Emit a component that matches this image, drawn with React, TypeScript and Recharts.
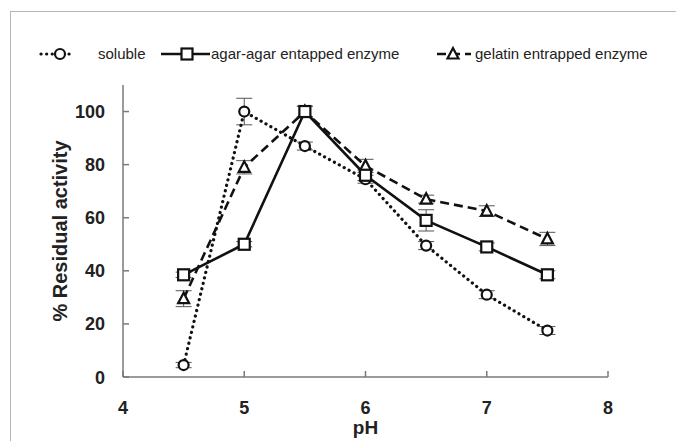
import React from 'react'
import { LineChart, Line, XAxis, YAxis, ErrorBar, Label } from 'recharts'

const phValues = [4.5, 5, 5.5, 6, 6.5, 7, 7.5]
const soluble = [4.5, 100, 87, 74.5, 49.5, 31, 17.5]
const solubleErr = [1, 5, 1.5, 1.5, 1.5, 1.5, 1.5]
const agar = [38.5, 50, 100, 76, 59, 49, 38.5]
const agarErr = [1, 1, 2, 2, 4, 1.5, 1.5]
const gelatin = [29.5, 79, 100, 79.5, 67, 62.5, 52]
const gelatinErr = [3, 2.5, 2, 2.5, 1.5, 2, 2.5]
const xTicks = [4, 5, 6, 7, 8]
const yTicks = [0, 20, 40, 60, 80, 100]

const data = phValues.map((ph, i) => ({
  ph,
  soluble: soluble[i],
  solubleErr: solubleErr[i],
  agar: agar[i],
  agarErr: agarErr[i],
  gelatin: gelatin[i],
  gelatinErr: gelatinErr[i],
}))

const FONT = '"Liberation Sans", Arial, sans-serif'
const AXIS = '#7a7a7a'

type Kind = 'circle' | 'square' | 'triangle'

function Marker({ kind, cx, cy }: { kind: Kind; cx: number; cy: number }) {
  if (kind === 'circle') {
    return <circle cx={cx} cy={cy} r={5} fill="#fff" stroke="#111" strokeWidth={2.2} />
  }
  if (kind === 'square') {
    return <rect x={cx - 5.5} y={cy - 5.5} width={11} height={11} fill="#fff" stroke="#111" strokeWidth={2.2} />
  }
  return (
    <polygon
      points={`${cx},${cy - 6} ${cx - 5.5},${cy + 4.5} ${cx + 5.5},${cy + 4.5}`}
      fill="#fff"
      stroke="#111"
      strokeWidth={2.2}
      strokeLinejoin="miter"
    />
  )
}

const dotFor = (kind: Kind) => (props: any) => (
  <Marker key={`${kind}-${props.index}`} kind={kind} cx={props.cx} cy={props.cy} />
)

const XTick = ({ x, y, payload }: any) => (
  <g>
    <line x1={x} x2={x} y1={y} y2={y - 6} stroke={AXIS} strokeWidth={1.5} />
    <text x={x} y={y + 37} textAnchor="middle" fontFamily={FONT} fontWeight="bold" fontSize={18} fill="#222">
      {payload.value}
    </text>
  </g>
)

const YTick = ({ x, y, payload }: any) => (
  <g>
    <line x1={x} x2={x + 6} y1={y} y2={y} stroke={AXIS} strokeWidth={1.5} />
    <text x={x - 18} y={y + 6.5} textAnchor="end" fontFamily={FONT} fontWeight="bold" fontSize={18} fill="#222">
      {payload.value}
    </text>
  </g>
)

const legendItems = [
  { label: 'soluble', kind: 'circle' as Kind, dash: '0.1 5.5', width: 3.2, left: 41, sample: 32, marker: 60, text: 98 },
  { label: 'agar-agar entapped enzyme', kind: 'square' as Kind, dash: undefined, width: 2.6, left: 161, sample: 49, marker: 187, text: 211 },
  { label: 'gelatin entrapped enzyme', kind: 'triangle' as Kind, dash: '9 5', width: 2.6, left: 437, sample: 34, marker: 453, text: 475 },
]

export default function App() {
  return (
    <div style={{ position: 'fixed', left: 0, top: 0, width: 676, height: 441, background: '#fff', overflow: 'hidden' }}>
      <div style={{ position: 'absolute', left: 10, top: 11, right: -2, bottom: -2, borderLeft: '1.5px solid #b5b5b5', borderTop: '1.5px solid #b5b5b5' }} />
      <svg width={676} height={90} style={{ position: 'absolute', left: 0, top: 0 }}>
        {legendItems.map((item) => (
          <g key={item.label}>
            <line
              x1={item.left}
              x2={item.left + item.sample}
              y1={54}
              y2={54}
              stroke="#111"
              strokeWidth={item.width}
              strokeDasharray={item.dash}
              strokeLinecap={item.dash === '0.1 5.5' ? 'round' : 'butt'}
            />
            <Marker kind={item.kind} cx={item.marker} cy={54} />
            <text x={item.text} y={59} fontFamily={FONT} fontSize={15} fill="#222">
              {item.label}
            </text>
          </g>
        ))}
      </svg>
      <div style={{ position: 'absolute', left: 0, top: 0 }}>
        <LineChart width={676} height={441} data={data} margin={{ top: 85, right: 68, bottom: 14, left: 0 }}>
          <XAxis
            dataKey="ph"
            type="number"
            domain={[4, 8]}
            ticks={xTicks}
            height={50}
            tickSize={0}
            tickMargin={0}
            tickLine={false}
            axisLine={{ stroke: AXIS, strokeWidth: 1.5 }}
            tick={<XTick />}
            interval={0}
          >
            <Label value="pH" position="center" dy={25} style={{ fontFamily: FONT, fontWeight: 'bold', fontSize: 19, fill: '#222' }} />
          </XAxis>
          <YAxis
            type="number"
            domain={[0, 110]}
            ticks={yTicks}
            width={123}
            tickSize={0}
            tickMargin={0}
            tickLine={false}
            axisLine={{ stroke: AXIS, strokeWidth: 1.5 }}
            tick={<YTick />}
            interval={0}
          >
            <Label
              value="% Residual activity"
              angle={-90}
              position="center"
              dx={-2}
              style={{ fontFamily: FONT, fontWeight: 'bold', fontSize: 20, fill: '#222', textAnchor: 'middle' }}
            />
          </YAxis>
          <Line
            dataKey="soluble"
            stroke="#111"
            strokeWidth={3.2}
            strokeDasharray="0.1 5.5"
            strokeLinecap="round"
            dot={dotFor('circle')}
            isAnimationActive={false}
          >
            <ErrorBar dataKey="solubleErr" direction="y" width={8} stroke="#555" strokeWidth={1} />
          </Line>
          <Line
            dataKey="gelatin"
            stroke="#111"
            strokeWidth={2.6}
            strokeDasharray="9 5"
            dot={dotFor('triangle')}
            isAnimationActive={false}
          >
            <ErrorBar dataKey="gelatinErr" direction="y" width={8} stroke="#555" strokeWidth={1} />
          </Line>
          <Line
            dataKey="agar"
            stroke="#111"
            strokeWidth={2.6}
            dot={dotFor('square')}
            isAnimationActive={false}
          >
            <ErrorBar dataKey="agarErr" direction="y" width={8} stroke="#555" strokeWidth={1} />
          </Line>
        </LineChart>
      </div>
    </div>
  )
}
